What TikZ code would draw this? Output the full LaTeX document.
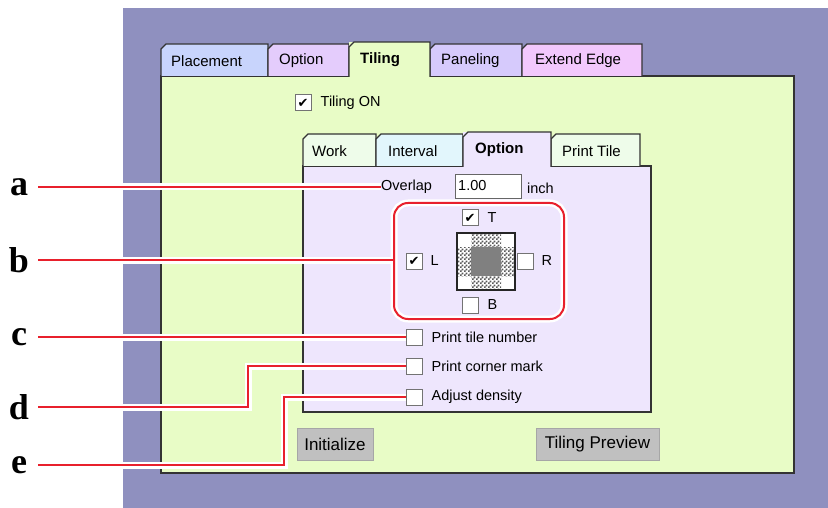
\documentclass[tikz,border=0pt]{standalone}
\usepackage{fontspec}
\setmainfont{Liberation Sans}
\newfontfamily\letterfont{Liberation Serif}
\newfontfamily\symfont{DejaVu Sans}
\usepackage{tikz}
\usetikzlibrary{patterns,
                calc,
                positioning}
\definecolor{bgpurple}{HTML}{8F90BF}
\definecolor{panelgreen}{HTML}{E8FCC6}
\definecolor{tabblue}{HTML}{C8D4FC}
\definecolor{tablilac}{HTML}{E4CCFC}
\definecolor{tabviolet}{HTML}{D6CAFC}
\definecolor{tabpink}{HTML}{F2C8FC}
\definecolor{innerlilac}{HTML}{EEE6FD}
\definecolor{tabmint}{HTML}{EEFCEA}
\definecolor{tabsky}{HTML}{E2F6FC}
\definecolor{btngray}{HTML}{C0C0C0}
\definecolor{calloutred}{HTML}{E8202C}
\definecolor{midgray}{HTML}{808080}
\pgfdeclarepatternformonly{finechecker}{\pgfpointorigin}{\pgfqpoint{4pt}{4pt}}{\pgfqpoint{4pt}{4pt}}{%
  \pgfpathrectangle{\pgfpointorigin}{\pgfqpoint{2pt}{2pt}}%
  \pgfpathrectangle{\pgfqpoint{2pt}{2pt}}{\pgfqpoint{2pt}{2pt}}%
  \pgfusepath{fill}}
\tikzstyle{tabline} = [draw=black!80, line width=1.1pt]
\tikzstyle{tabtext} = [anchor=west, inner sep=0pt, font=\fontsize{15}{18}\selectfont]
\tikzstyle{guitext} = [anchor=west, inner sep=0pt, font=\fontsize{14.5}{17}\selectfont]
\tikzstyle{checkbox} = [rectangle, draw=black!55, line width=1pt, fill=white, minimum size=16pt, inner sep=0pt]
\tikzstyle{button} = [rectangle, draw=black!35, line width=1pt, fill=btngray, minimum height=32pt, font=\fontsize{17}{20}\selectfont]
\tikzstyle{letter} = [minimum width=38pt, inner sep=0pt, font=\letterfont\bfseries\fontsize{36}{36}\selectfont]
\tikzstyle{callout} = [draw=calloutred, line width=2pt, preaction={draw=white, line width=7pt}]
\newcommand{\chk}{{\symfont\fontsize{13}{13}\selectfont ✔}}

\begin{document}
\begin{tikzpicture}[x=1pt, y=-1pt]
    \useasboundingbox (0,0) rectangle (828,508);
    \fill [bgpurple] (123,8) rectangle (828,508);
    % outer sheet and its tabs
    \draw [tabline, fill=panelgreen] (161,76) rectangle (794,473);
    \draw [tabline, fill=tabblue] (161,76) -- (161,49) -- (166,44) -- (268,44) -- (268,76);
    \draw [tabline, fill=tablilac] (268,76) -- (268,49) -- (273,44) -- (349,44) -- (349,76);
    \draw [tabline, fill=tabviolet] (430,76) -- (430,49) -- (435,44) -- (522,44) -- (522,76);
    \draw [tabline, fill=tabpink] (522,76) -- (522,49) -- (527,44) -- (642,44) -- (642,76);
    \fill [panelgreen] (349,42) rectangle (430,77.5);
    \draw [tabline] (349,77) -- (349,47) -- (354,42) -- (430,42) -- (430,77);
    \node (tplacement) [tabtext] at (171,61) {Placement};
    \node (toption) [tabtext] at (279,61) {Option};
    \node (ttiling) [tabtext, font=\fontsize{15}{18}\selectfont\bfseries] at (360,60) {Tiling};
    \node (tpaneling) [tabtext] at (441,61) {Paneling};
    \node (textend) [tabtext] at (535,61) {Extend Edge};
    \node (cbon) [checkbox] at (303,103) {\chk};
    \node (tilingon) [guitext, right=9pt of cbon] {Tiling ON};
    % inner sheet and its tabs
    \draw [tabline, fill=innerlilac] (303,166) rectangle (651,412);
    \draw [tabline, fill=tabmint] (303,166) -- (303,139) -- (308,134) -- (376,134) -- (376,166);
    \draw [tabline, fill=tabsky] (376,166) -- (376,139) -- (381,134) -- (463,134) -- (463,166);
    \draw [tabline, fill=tabmint] (551,166) -- (551,139) -- (556,134) -- (640,134) -- (640,166);
    \fill [innerlilac] (463,132) rectangle (551,167.5);
    \draw [tabline] (463,167) -- (463,137) -- (468,132) -- (551,132) -- (551,167);
    \node (twork) [tabtext] at (312,151) {Work};
    \node (tinterval) [tabtext] at (388,151) {Interval};
    \node (tinoption) [tabtext, font=\fontsize{15}{18}\selectfont\bfseries] at (475,150) {Option};
    \node (tprinttile) [tabtext] at (562,151) {Print Tile};
    \node (overlap) [guitext] at (381,187) {Overlap};
    \node (field) [rectangle, draw=black!60, line width=1pt, fill=white, minimum width=66pt, minimum height=24pt, anchor=west] at (455,187) {};
    \node (fieldval) [guitext] at (458,186) {1.00};
    \node (inch) [guitext] at (527,188) {inch};
    % edge group
    \node (sidebox) [callout, rounded corners=14pt, minimum width=170pt, minimum height=116pt] at (479,261) {};
    \node (cbt) [checkbox] at (470,218) {\chk};
    \node (lblt) [guitext, right=9pt of cbt] {T};
    \node (cbl) [checkbox] at (414,261) {\chk};
    \node (lbll) [guitext, right=8pt of cbl] {L};
    \node (cbr) [checkbox] at (525,261) {};
    \node (lblr) [guitext, right=8pt of cbr] {R};
    \node (cbb) [checkbox] at (470,305) {};
    \node (lblb) [guitext, right=9pt of cbb] {B};
    \fill [white] (457,233) rectangle (515,290);
    \fill [pattern=finechecker, pattern color=black!65] (471,233) rectangle (501,290);
    \fill [pattern=finechecker, pattern color=black!65] (457,247) rectangle (515,276);
    \fill [midgray] (471,247) rectangle (501,276);
    \node (preview) [draw=black!85, line width=1.2pt, minimum width=58pt, minimum height=57pt] at (486,261.5) {};
    % options
    \node (cbc) [checkbox] at (414.5,337) {};
    \node (tilenum) [guitext, right=8.5pt of cbc] {Print tile number};
    \node (cbd) [checkbox] at (414.5,366) {};
    \node (cornermark) [guitext, right=8.5pt of cbd] {Print corner mark};
    \node (cbe) [checkbox] at (414.5,397) {};
    \node (density) [guitext, right=8.5pt of cbe] {Adjust density};
    \node (init) [button, minimum width=76pt] at (335,444) {Initialize};
    \node (tprev) [button, minimum width=123pt] at (597.5,444) {Tiling Preview};
    % callouts
    \node (la) [letter] at (19,187) {a};
    \node (lb) [letter] at (19,260) {b};
    \node (lc) [letter] at (19,337) {c};
    \node (ld) [letter] at (19,407) {d};
    \node (le) [letter] at (19,465) {e};
    \coordinate (dbend) at (248,366);
    \coordinate (ebend) at (284,397);
    \draw [callout] (la) -- (overlap);
    \draw [callout] (lb) -- (lb -| sidebox.west);
    \draw [callout] (lc) -- (cbc);
    \draw [callout] (ld) -| (dbend) -- (cbd);
    \draw [callout] (le) -| (ebend) -- (cbe);
\end{tikzpicture}
\end{document}
